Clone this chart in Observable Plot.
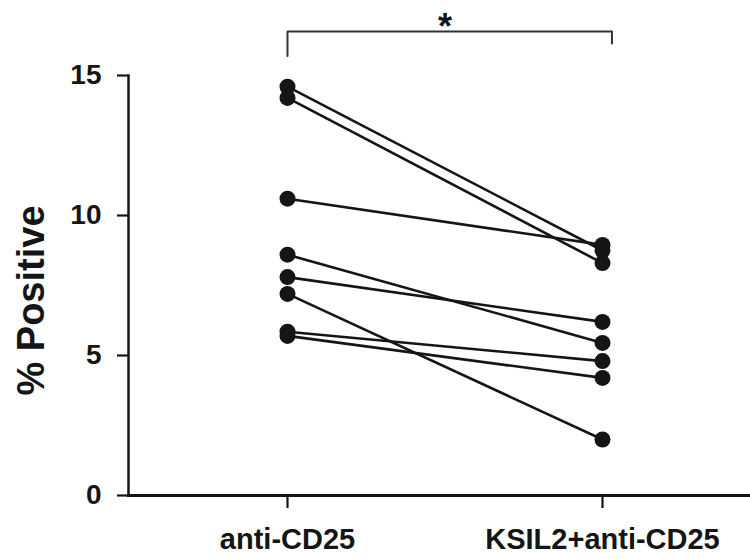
<!DOCTYPE html>
<html>
<head>
<meta charset="utf-8">
<script src="https://cdn.jsdelivr.net/npm/d3@7"></script>
<script src="https://cdn.jsdelivr.net/npm/@observablehq/plot@0.6"></script>
<style>
  html, body { margin: 0; padding: 0; background: #fff; }
  svg { display: block; }
</style>
</head>
<body>
<div id="chart"></div>
<script>
// Groups (x categories)
const groups = ["anti-CD25", "KSIL2+anti-CD25"];
// Paired values: % Positive for each subject
const before = [14.6, 14.2, 10.6, 8.6, 7.8, 7.2, 5.85, 5.7];
const after  = [8.75, 8.3, 8.95, 5.45, 6.2, 2.0, 4.8, 4.2];
const yTicks = [0, 5, 10, 15];
const yLabel = "% Positive";
const significance = "*";
// Significance bracket (x index, y value)
const bracketX = [0, 0, 1.03, 1.03];
const bracketY = [15.7, 16.57, 16.57, 16.14];

const pairs = before.map((b, i) => ({b, a: after[i]}));
const points = [
  ...before.map(v => ({x: 0, y: v})),
  ...after.map(v => ({x: 1, y: v}))
];
const bracket = bracketX.map((x, i) => ({x, y: bracketY[i]}));

const ink = "#151515";
const font = "'Liberation Sans', Arial, Helvetica, sans-serif";

const chart = Plot.plot({
  width: 750,
  height: 559,
  marginLeft: 128,
  marginRight: 0,
  marginTop: 75,
  marginBottom: 64,
  style: {fontFamily: font, color: ink, background: "#fff", overflow: "visible"},
  x: {type: "linear", domain: [0, 1], range: [287, 602]},
  y: {type: "linear", domain: [0, 15], range: [495, 75]},
  marks: [
    Plot.frame({anchor: "left", stroke: ink, strokeWidth: 2.5}),
    Plot.frame({anchor: "bottom", stroke: ink, strokeWidth: 3}),
    Plot.axisY({
      ticks: yTicks, tickSize: 11, tickPadding: 16, tickFormat: d => String(d),
      label: null, fontSize: 28, fontWeight: "bold", stroke: ink, strokeWidth: 2.2
    }),
    Plot.axisX({
      ticks: [0, 1], tickSize: 13, tickPadding: 20, tickFormat: d => groups[d],
      label: null, fontSize: 29, fontWeight: "bold", stroke: ink, strokeWidth: 2.2
    }),
    Plot.text([yLabel], {
      frameAnchor: "left", text: d => d, rotate: -90, dx: -97, dy: 15,
      fontSize: 38, fontWeight: "bold", fill: ink, textAnchor: "middle"
    }),
    Plot.link(pairs, {
      x1: () => 0, y1: "b", x2: () => 1, y2: "a",
      stroke: ink, strokeWidth: 2.6
    }),
    Plot.dot(points, {x: "x", y: "y", r: 8, fill: ink, stroke: null}),
    Plot.line(bracket, {x: "x", y: "y", stroke: "#333", strokeWidth: 2, clip: false}),
    Plot.text([significance], {
      x: () => 0.5, y: () => bracketY[1], text: d => d, dy: -4,
      fontSize: 36, fontWeight: "bold", fill: ink, lineAnchor: "middle"
    })
  ]
});
document.getElementById("chart").appendChild(chart);
</script>
</body>
</html>
